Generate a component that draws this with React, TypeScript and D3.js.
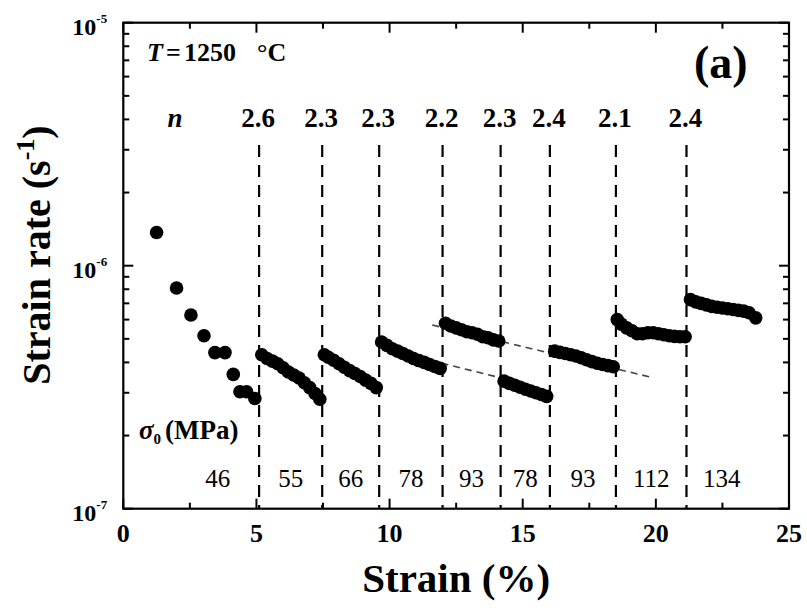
import React from 'react';
import * as d3 from 'd3';

type P = [number, number];

// first stage: discrete points
const seg1: P[] = [[1.25, 1.37e-6], [2.0, 8.1e-7], [2.54, 6.27e-7], [3.03, 5.15e-7], [3.44, 4.39e-7], [3.82, 4.39e-7], [4.13, 3.57e-7], [4.38, 3.03e-7], [4.63, 3.03e-7], [4.94, 2.84e-7]];
const seg2: P[] = [[5.2, 4.3e-7], [5.4, 4.15e-7], [5.6, 4.05e-7], [5.8, 3.95e-7], [6.0, 3.8e-7], [6.2, 3.65e-7], [6.4, 3.55e-7], [6.6, 3.45e-7], [6.8, 3.3e-7], [7.0, 3.15e-7], [7.2, 2.98e-7], [7.38, 2.82e-7]];
const seg3: P[] = [[7.55, 4.3e-7], [7.7, 4.2e-7], [7.9, 4.08e-7], [8.1, 3.95e-7], [8.3, 3.82e-7], [8.5, 3.7e-7], [8.7, 3.6e-7], [8.9, 3.5e-7], [9.1, 3.38e-7], [9.3, 3.28e-7], [9.5, 3.15e-7]];
const seg4: P[] = [[9.7, 4.85e-7], [9.9, 4.7e-7], [10.1, 4.55e-7], [10.3, 4.45e-7], [10.5, 4.35e-7], [10.7, 4.25e-7], [10.9, 4.15e-7], [11.1, 4.07e-7], [11.3, 4.0e-7], [11.5, 3.92e-7], [11.7, 3.85e-7], [11.9, 3.78e-7]];
const seg5: P[] = [[12.1, 5.8e-7], [12.3, 5.65e-7], [12.5, 5.55e-7], [12.7, 5.45e-7], [12.9, 5.35e-7], [13.1, 5.3e-7], [13.3, 5.22e-7], [13.5, 5.1e-7], [13.7, 5.05e-7], [13.9, 4.95e-7], [14.1, 4.9e-7]];
const seg6: P[] = [[14.3, 3.35e-7], [14.5, 3.28e-7], [14.7, 3.22e-7], [14.9, 3.16e-7], [15.1, 3.1e-7], [15.3, 3.05e-7], [15.5, 3.0e-7], [15.7, 2.95e-7], [15.9, 2.9e-7]];
const seg7: P[] = [[16.2, 4.45e-7], [16.4, 4.4e-7], [16.6, 4.35e-7], [16.8, 4.3e-7], [17.0, 4.25e-7], [17.2, 4.18e-7], [17.4, 4.1e-7], [17.6, 4.03e-7], [17.8, 3.97e-7], [18.0, 3.92e-7], [18.2, 3.88e-7], [18.4, 3.84e-7]];
const seg8: P[] = [[18.55, 6.0e-7], [18.7, 5.75e-7], [18.9, 5.55e-7], [19.1, 5.4e-7], [19.3, 5.25e-7], [19.5, 5.25e-7], [19.7, 5.3e-7], [19.9, 5.3e-7], [20.1, 5.25e-7], [20.3, 5.2e-7], [20.5, 5.15e-7], [20.7, 5.12e-7], [20.9, 5.1e-7], [21.1, 5.1e-7]];
const seg9: P[] = [[21.3, 7.25e-7], [21.5, 7.1e-7], [21.7, 7.0e-7], [21.9, 6.9e-7], [22.1, 6.8e-7], [22.3, 6.75e-7], [22.5, 6.7e-7], [22.7, 6.65e-7], [22.9, 6.6e-7], [23.1, 6.55e-7], [23.3, 6.5e-7], [23.5, 6.4e-7], [23.75, 6.1e-7]];
const segments: P[][] = [seg1, seg2, seg3, seg4, seg5, seg6, seg7, seg8, seg9];

// extrapolation lines
const fitA: P[] = [[11.95, 3.97e-7], [14.25, 3.44e-7]];
const fitB: P[] = [[11.6, 5.7e-7], [19.9, 3.46e-7]];

// stress-change strains, stress exponents, and initial stresses
const stepStrains = [5.1, 7.47, 9.61, 11.99, 14.17, 16.02, 18.5, 21.15];
const nValues = ['2.6', '2.3', '2.3', '2.2', '2.3', '2.4', '2.1', '2.4'];
const sigmaValues = ['46', '55', '66', '78', '93', '78', '93', '112', '134'];

const xTicks = [0, 5, 10, 15, 20, 25];
const xMinorTicks = [2.5, 7.5, 12.5, 17.5, 22.5];
const yTicks = [1e-7, 1e-6, 1e-5];
const yExponents = ['-7', '-6', '-5'];

const W = 807, H = 616;
const L = 123.3, R = 789, T = 22.7, B = 508.7;
const FONT = '"Liberation Serif", "Times New Roman", Times, serif';

export default function App() {
  const x = d3.scaleLinear().domain([0, 25]).range([L, R]);
  const y = d3.scaleLog().domain([1e-7, 1e-5]).range([B, T]);
  const yMinor: number[] = [];
  [1e-7, 1e-6].forEach((d) => { for (let k = 2; k <= 9; k++) yMinor.push(d * k); });
  const line = d3.line<P>().x((d) => x(d[0])).y((d) => y(d[1]));

  const sigmaBounds = [2.0, ...stepStrains, 23.8];
  const dashTop = 145;

  return (
    <svg width={W} height={H} style={{ position: 'absolute', left: 0, top: 0, background: '#fff' }} fontFamily={FONT}>
      <rect x={0} y={0} width={W} height={H} fill="#fff" />
      {/* vertical dashed lines */}
      {stepStrains.map((s, i) => (
        <line key={'v' + i} x1={x(s)} x2={x(s)} y1={dashTop} y2={B} stroke="#000" strokeWidth={2.2} strokeDasharray="12,8" />
      ))}
      {/* extrapolations */}
      {[fitA, fitB].map((f, i) => (
        <path key={'f' + i} d={line(f) || ''} fill="none" stroke="#444" strokeWidth={1.6} strokeDasharray="7,5" />
      ))}
      {/* data */}
      {segments.map((seg, i) => (
        <g key={'s' + i}>
          {seg.map((d, j) => (
            <circle key={j} cx={x(d[0])} cy={y(d[1])} r={6.8} fill="#000" />
          ))}
        </g>
      ))}
      {/* frame */}
      <rect x={L} y={T} width={R - L} height={B - T} fill="none" stroke="#000" strokeWidth={2.2} />
      {/* x ticks */}
      {xTicks.map((t) => (
        <g key={'xt' + t}>
          <line x1={x(t)} x2={x(t)} y1={B} y2={B - 10} stroke="#000" strokeWidth={2} />
          <line x1={x(t)} x2={x(t)} y1={T} y2={T + 10} stroke="#000" strokeWidth={2} />
          <text x={x(t)} y={542} textAnchor="middle" fontSize={26} fontWeight="bold">{t}</text>
        </g>
      ))}
      {xMinorTicks.map((t) => (
        <g key={'xm' + t}>
          <line x1={x(t)} x2={x(t)} y1={B} y2={B - 6} stroke="#000" strokeWidth={2} />
          <line x1={x(t)} x2={x(t)} y1={T} y2={T + 6} stroke="#000" strokeWidth={2} />
        </g>
      ))}
      {/* y ticks */}
      {yTicks.map((t, i) => (
        <g key={'yt' + i}>
          <line x1={L} x2={L + 10} y1={y(t)} y2={y(t)} stroke="#000" strokeWidth={2} />
          <line x1={R} x2={R - 10} y1={y(t)} y2={y(t)} stroke="#000" strokeWidth={2} />
          <text x={L - 51} y={y(t) + 12} fontSize={24} fontWeight="bold">
            10<tspan fontSize={13} dy={-12}>{yExponents[i]}</tspan>
          </text>
        </g>
      ))}
      {yMinor.map((t, i) => (
        <g key={'ym' + i}>
          <line x1={L} x2={L + 6} y1={y(t)} y2={y(t)} stroke="#000" strokeWidth={2} />
          <line x1={R} x2={R - 6} y1={y(t)} y2={y(t)} stroke="#000" strokeWidth={2} />
        </g>
      ))}
      {/* n labels */}
      <text x={175} y={127} textAnchor="middle" fontSize={27} fontWeight="bold" fontStyle="italic">n</text>
      {nValues.map((v, i) => (
        <text key={'n' + i} x={x(stepStrains[i]) - 1} y={127} textAnchor="middle" fontSize={27} fontWeight="bold">{v}</text>
      ))}
      {/* sigma labels */}
      <text x={139} y={439} fontSize={27} fontWeight="bold">
        <tspan fontStyle="italic">σ</tspan><tspan fontSize={15} dy={5}>0</tspan><tspan dy={-5} dx={4}>(MPa)</tspan>
      </text>
      {sigmaValues.map((v, i) => (
        <text key={'sg' + i} x={(x(sigmaBounds[i]) + x(sigmaBounds[i + 1])) / 2} y={487} textAnchor="middle" fontSize={25}>{v}</text>
      ))}
      {/* annotations */}
      <text y={61} fontSize={26} fontWeight="bold">
        <tspan x={147} fontStyle="italic">T</tspan>
        <tspan x={166}>=</tspan>
        <tspan x={184}>1250</tspan>
        <tspan x={257}>°C</tspan>
      </text>
      <text x={694} y={78} fontSize={46} fontWeight="bold">(a)</text>
      {/* axis titles */}
      <text transform={`translate(50,255) rotate(-90)`} textAnchor="middle" fontSize={40} fontWeight="bold">
        Strain rate (s<tspan fontSize={26} dy={-16}>-1</tspan><tspan dy={16}>)</tspan>
      </text>
      <text x={(L + R) / 2} y={592} textAnchor="middle" fontSize={41} fontWeight="bold">Strain (%)</text>
    </svg>
  );
}
